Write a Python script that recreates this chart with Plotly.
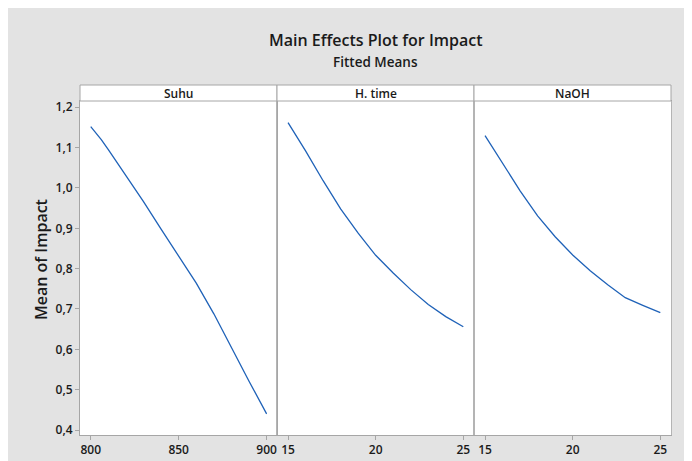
import plotly.graph_objects as go
from plotly.subplots import make_subplots

# ---- data ----
factors = ["Suhu", "H. time", "NaOH"]
suhu_x = [800, 806, 810, 820, 830, 840, 850, 860, 870, 880, 890, 900]
suhu_y = [1.152, 1.120, 1.095, 1.031, 0.966, 0.898, 0.832, 0.764, 0.688, 0.603, 0.521, 0.440]
htime_x = [15, 16, 17, 18, 19, 20, 21, 22, 23, 24, 25]
htime_y = [1.162, 1.092, 1.018, 0.948, 0.888, 0.833, 0.789, 0.748, 0.711, 0.681, 0.656]
naoh_x = [15, 16, 17, 18, 19, 20, 21, 22, 23, 24, 25]
naoh_y = [1.130, 1.062, 0.993, 0.931, 0.879, 0.834, 0.795, 0.760, 0.728, 0.709, 0.691]

y_tickvals = [0.4, 0.5, 0.6, 0.7, 0.8, 0.9, 1.0, 1.1, 1.2]
y_ticktext = ["0,4", "0,5", "0,6", "0,7", "0,8", "0,9", "1,0", "1,1", "1,2"]
suhu_ticks = [800, 850, 900]
time_ticks = [15, 20, 25]

title = "Main Effects Plot for Impact"
subtitle = "Fitted Means"
y_title = "Mean of Impact"

# ---- figure ----
OFF = 8  # default page body margin
W, H = 692 - OFF, 461 - OFF
ML, MR, MT, MB = 80 - OFF, 21, 101 - OFF, 26
PW, PH = W - ML - MR, H - MT - MB

def px_x(p):  # page pixel -> paper x
    return (p - OFF - ML) / PW

def px_y(p):  # page pixel -> paper y
    return (H - MB - (p - OFF)) / PH

BG = "#e3e3e3"
GRID = "#a6a6a6"
DIV = "#b4b4b4"
LINE = "#1f62b8"
TXT = "#1a1a1a"
FONT = "Open Sans"

fig = make_subplots(rows=1, cols=3, shared_yaxes=True, horizontal_spacing=0)

series = [(suhu_x, suhu_y), (htime_x, htime_y), (naoh_x, naoh_y)]
for i, (xs, ys) in enumerate(series):
    fig.add_trace(go.Scatter(x=xs, y=ys, mode="lines",
                             line=dict(color=LINE, width=1.3),
                             showlegend=False, hoverinfo="skip"),
                  row=1, col=i + 1)

axis_common = dict(showgrid=False, zeroline=False, showline=True, linecolor=GRID,
                   linewidth=1, mirror=True, ticks="outside", ticklen=4,
                   tickcolor=GRID, tickwidth=1, automargin=False,
                   tickfont=dict(family=FONT, size=12, color=TXT, weight=600))

fig.update_xaxes(**axis_common)
fig.update_xaxes(range=[793.9, 905.9], tickvals=suhu_ticks, row=1, col=1)
fig.update_xaxes(range=[14.37, 25.61], tickvals=time_ticks, row=1, col=2)
fig.update_xaxes(range=[14.37, 25.61], tickvals=time_ticks, row=1, col=3)

fig.update_yaxes(**axis_common)
fig.update_yaxes(range=[0.3876, 1.2156], tickvals=y_tickvals, ticktext=y_ticktext)
fig.update_yaxes(ticks="", linecolor=DIV, row=1, col=2)
fig.update_yaxes(ticks="", linecolor=DIV, row=1, col=3)

shapes = []
annotations = []
# strips
for i, name in enumerate(factors):
    x0, x1 = i / 3, (i + 1) / 3
    shapes.append(dict(type="rect", xref="paper", yref="paper",
                       x0=x0, x1=x1, y0=1, y1=px_y(85),
                       fillcolor="white", line=dict(color=GRID, width=1)))
    annotations.append(dict(text=name, xref="paper", yref="paper",
                            x=(x0 + x1) / 2, y=(1 + px_y(85)) / 2,
                            showarrow=False, xanchor="center", yanchor="middle",
                            font=dict(family=FONT, size=12, color=TXT, weight=600)))

annotations.append(dict(text=title, xref="paper", yref="paper",
                        x=0.5, y=px_y(40), showarrow=False,
                        xanchor="center", yanchor="middle",
                        font=dict(family=FONT, size=16, color=TXT, weight=600)))
annotations.append(dict(text=subtitle, xref="paper", yref="paper",
                        x=0.5, y=px_y(62), showarrow=False,
                        xanchor="center", yanchor="middle",
                        font=dict(family=FONT, size=13.5, color=TXT, weight=600)))
annotations.append(dict(text=y_title, xref="paper", yref="paper",
                        x=px_x(41), y=px_y(260), showarrow=False, textangle=-90,
                        xanchor="center", yanchor="middle",
                        font=dict(family=FONT, size=16, color=TXT, weight=600)))

fig.update_layout(width=W, height=H,
                  margin=dict(l=ML, r=MR, t=MT, b=MB, pad=0),
                  paper_bgcolor=BG, plot_bgcolor="white",
                  shapes=shapes, annotations=annotations,
                  font=dict(family=FONT, color=TXT))

fig.write_html("out.html")
